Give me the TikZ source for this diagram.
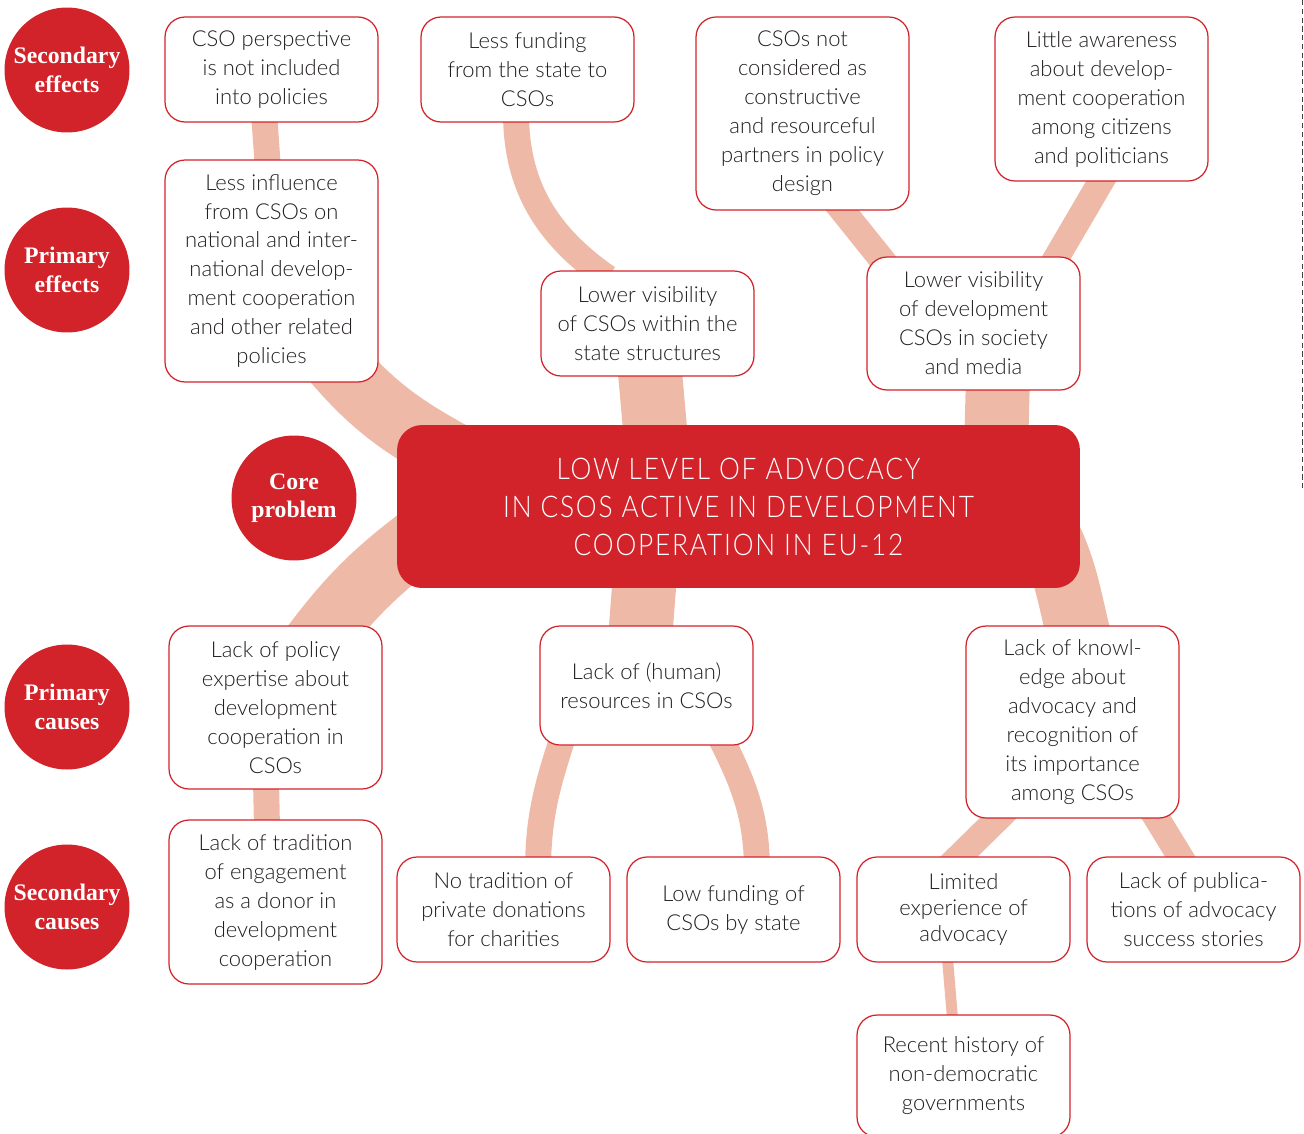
\documentclass[tikz,border=0pt]{standalone}
\usepackage{fontspec}
\setmainfont{Lato}[UprightFont=* Light, BoldFont=* Bold]
\newfontfamily\labelfont{Liberation Serif}
\newfontfamily\corefont{Lato}[UprightFont=* Light, FakeStretch=0.88, LetterSpace=6]
\usetikzlibrary{positioning,backgrounds}
\definecolor{cored}{HTML}{D2232A}
\definecolor{bandpink}{HTML}{EEBAA7}
\definecolor{inkgray}{HTML}{231F20}
\tikzset{
  causebox/.style={draw=cored, line width=0.7pt, fill=white, rounded corners=0.4cm,
    minimum width=4.26cm, inner sep=0pt, align=center, text=inkgray,
    font=\fontsize{12.5}{16.5}\selectfont},
  levelmark/.style={circle, fill=cored, minimum size=2.5cm, inner sep=0pt,
    align=center, text=white, font=\labelfont\bfseries\fontsize{13.5}{16.2}\selectfont},
  coreblock/.style={fill=cored, rounded corners=0.5cm, minimum width=13.66cm,
    minimum height=3.26cm, align=center, text=white,
    font=\corefont\fontsize{17}{21.6}\selectfont},
  band/.style={draw=bandpink, line width=0.52cm},
  wideband/.style={draw=bandpink, line width=1.28cm},
}
\begin{document}
\begin{tikzpicture}[x=0.02cm, y=0.02cm]
    \useasboundingbox (0,0) rectangle (1304,-1133);

    % level markers
    \node[levelmark] (seceff) at (67,-70) {Secondary\\effects};
    \node[levelmark] (primeff) at (67,-270) {Primary\\effects};
    \node[levelmark] (coreprob) at (294,-498) {Core\\problem};
    \node[levelmark] (primcause) at (67,-707) {Primary\\causes};
    \node[levelmark] (seccause) at (67,-907) {Secondary\\causes};

    % secondary effects
    \node[causebox, minimum height=2.1cm] (persp) at (271.5,-69.5) {CSO perspective\\is not included\\into policies};
    \node[causebox, minimum height=2.1cm] (funding) at (527.5,-69.5) {Less funding\\from the state to\\CSOs};
    \node[causebox, minimum height=3.86cm] (partners) at (802.5,-113.5) {CSOs not\\considered as\\constructive\\and resourceful\\partners in policy\\design};
    \node[causebox, minimum height=3.28cm] (awareness) at (1101.5,-99) {Little awareness\\about develop-\\ment cooperation\\among citizens\\and politicians};

    % primary effects
    \node[causebox, minimum height=4.44cm] (influence) at (271.5,-271) {Less influence\\from CSOs on\\national and inter-\\national develop-\\ment cooperation\\and other related\\policies};
    \node[causebox, minimum height=2.1cm] (statevis) at (647.5,-323.5) {Lower visibility\\of CSOs within the\\state structures};
    \node[causebox, minimum height=2.66cm] (mediavis) at (973.5,-323.5) {Lower visibility\\of development\\CSOs in society\\and media};

    % core problem
    \node[coreblock] (core) at (738.5,-506.5) {LOW LEVEL OF ADVOCACY\\IN CSOS ACTIVE IN DEVELOPMENT\\COOPERATION IN EU-12};

    % primary causes
    \node[causebox, minimum height=3.26cm] (expertise) at (275.5,-707.5) {Lack of policy\\expertise about\\development\\cooperation in\\CSOs};
    \node[causebox, minimum height=2.38cm] (resources) at (646.5,-685.5) {Lack of (human)\\resources in CSOs};
    \node[causebox, minimum height=3.84cm] (knowledge) at (1072.5,-722) {Lack of knowl-\\edge about\\advocacy and\\recognition of\\its importance\\among CSOs};

    % secondary causes
    \node[causebox, minimum height=3.28cm] (tradition) at (275.5,-902) {Lack of tradition\\of engagement\\as a donor in\\development\\cooperation};
    \node[causebox, minimum height=2.1cm] (donations) at (503.5,-909.5) {No tradition of\\private donations\\for charities};
    \node[causebox, minimum height=2.1cm] (statefund) at (733.5,-909.5) {Low funding of\\CSOs by state};
    \node[causebox, minimum height=2.1cm, font=\fontsize{12.5}{15}\selectfont] (experience) at (963.5,-909.5) {Limited\\experience of\\advocacy};
    \node[causebox, minimum height=2.1cm] (stories) at (1193.5,-909.5) {Lack of publica-\\tions of advocacy\\success stories};
    \node[causebox, minimum height=2.44cm] (history) at (963.5,-1076) {Recent history of\\non-democratic\\governments};

    % bands behind the boxes
    \begin{scope}[on background layer]
        \draw[band] ([xshift=-0.15cm,yshift=0.2cm]persp.south) -- ([xshift=-0.07cm,yshift=-0.2cm]influence.north);
        \draw[band] ([xshift=-0.23cm,yshift=0.2cm]funding.south) to[out=-90,in=145] ([xshift=-0.8cm,yshift=-0.15cm]statevis.north);
        \draw[band] ([xshift=0.61cm,yshift=0.24cm]partners.south) -- ([xshift=-1.69cm,yshift=-0.24cm]mediavis.north);
        \draw[band] ([xshift=0.14cm,yshift=0.26cm]awareness.south) -- ([xshift=1.52cm,yshift=-0.26cm]mediavis.north);
        \draw[wideband] ([xshift=-0.94cm,yshift=0.5cm]influence.south east) to[out=-50,in=152] ([xshift=1.36cm,yshift=-0.72cm]core.north west);
        \draw[wideband] ([xshift=0.03cm,yshift=0.3cm]statevis.south) -- ([xshift=-1.65cm,yshift=-0.3cm]core.north);
        \draw[wideband] ([xshift=0.49cm,yshift=0.3cm]mediavis.south) -- ([xshift=-1.68cm,yshift=-0.3cm]core.north east);
        \draw[wideband] ([xshift=0.61cm,yshift=-0.6cm]expertise.north) to[out=54,in=216] ([xshift=0.76cm,yshift=1.22cm]core.south west);
        \draw[wideband] ([xshift=-1.87cm,yshift=0.3cm]core.south) -- ([xshift=-0.13cm,yshift=-0.3cm]resources.north);
        \draw[wideband] ([xshift=0.15cm,yshift=-0.3cm]knowledge.north) to[out=104,in=-60] ([xshift=-0.8cm,yshift=-0.27cm]core.east);
        \draw[band] ([xshift=-0.19cm,yshift=0.2cm]expertise.south) -- ([xshift=-0.17cm,yshift=-0.2cm]tradition.north);
        \draw[band] ([xshift=-1.63cm,yshift=0.3cm]resources.south) to[out=-108,in=90] ([xshift=0.69cm,yshift=-0.3cm]donations.north);
        \draw[band] ([xshift=1.41cm,yshift=0.3cm]resources.south) to[out=-63,in=90] ([xshift=0.47cm,yshift=-0.3cm]statefund.north);
        \draw[band] ([xshift=-1.27cm,yshift=0.22cm]knowledge.south) -- ([xshift=-0.31cm,yshift=-0.22cm]experience.north);
        \draw[band] ([xshift=1.53cm,yshift=0.26cm]knowledge.south) -- ([xshift=-0.11cm,yshift=-0.26cm]stories.north);
        \draw[draw=bandpink, line width=0.22cm] ([xshift=-0.33cm,yshift=0.2cm]experience.south) -- ([xshift=-0.21cm,yshift=-0.2cm]history.north);
    \end{scope}

    % trace at the right edge
    \draw[densely dashed, black!75, line width=0.3pt] (1302.5,0) -- (1302.5,-490);
\end{tikzpicture}
\end{document}
